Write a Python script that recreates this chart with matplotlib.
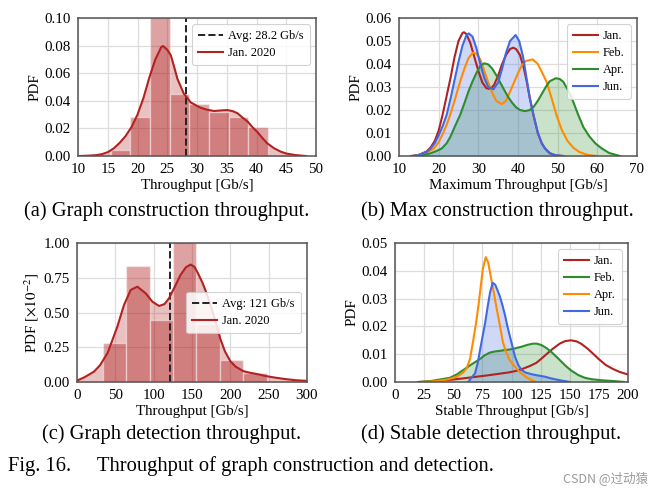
import numpy as np
import matplotlib
matplotlib.use("Agg")
import matplotlib.pyplot as plt

plt.rcParams['font.family'] = ['Liberation Serif', 'DejaVu Serif']
plt.rcParams['mathtext.fontset'] = 'stix'

RED = '#b22222'
ORANGE = '#ff8c00'
GREEN = '#2e8b2e'
BLUE = '#4169e1'

# ---------------- (a) graph construction throughput ----------------
a_bin_edges = [15.5, 18.8, 22.1, 25.4, 28.7, 32.0, 35.3, 38.6, 41.9]
a_bin_heights = [0.0046, 0.028, 0.106, 0.045, 0.038, 0.0317, 0.028, 0.0213]
a_kde_x = [10.3, 12, 13, 14, 15, 16, 17, 18, 19, 20, 21, 22, 23, 24, 24.3, 25,
           25.6, 26.2, 26.7, 27.3, 27.8, 28.4, 28.9, 29.7, 30.6, 31.7, 32.9, 34,
           35.1, 36, 36.8, 37.6, 38.5, 39.3, 40.1, 41, 41.8, 43, 44.1, 45, 46.5, 48.3]
a_kde_y = [0, 0.0003, 0.0006, 0.0013, 0.0028, 0.0055, 0.0095, 0.0145, 0.021, 0.030,
           0.042, 0.057, 0.070, 0.079, 0.0797, 0.077, 0.073, 0.064, 0.056, 0.050,
           0.045, 0.042, 0.039, 0.037, 0.035, 0.0335, 0.0326, 0.033, 0.0333, 0.0325,
           0.031, 0.028, 0.025, 0.021, 0.0176, 0.013, 0.0092, 0.0055, 0.0031, 0.0018,
           0.0007, 0]
a_avg = 28.2

# ---------------- (b) max construction throughput ----------------
b_jan_x = [13, 15, 17, 18, 19, 20, 21, 22, 23, 24, 25, 26, 26.4, 27, 28, 29, 30, 31,
           32, 33.1, 34, 35, 36, 37, 38, 38.8, 39.5, 40.5, 41.5, 42.2, 43, 43.9, 45,
           46, 46.8, 48, 49.5, 51.3]
b_jan_y = [0, 0.0005, 0.002, 0.0038, 0.0065, 0.011, 0.018, 0.026, 0.034, 0.043,
           0.050, 0.0535, 0.0538, 0.053, 0.049, 0.043, 0.037, 0.032, 0.0295, 0.0291,
           0.031, 0.035, 0.040, 0.044, 0.0465, 0.0471, 0.0465, 0.0439, 0.038, 0.0323,
           0.025, 0.0178, 0.010, 0.0055, 0.0033, 0.0012, 0.0003, 0]
b_feb_x = [13.5, 15, 17, 18.8, 20, 21, 22, 22.9, 24, 25.4, 26.5, 27.5, 28.6, 29.5,
           30.5, 31.5, 32.5, 33.5, 34.5, 35.9, 37, 38, 39, 40, 41, 42, 43.7, 45, 46,
           47.2, 48.5, 49.7, 51, 52.5, 54, 55.5, 57.5, 59.8]
b_feb_y = [0, 0.0005, 0.0015, 0.0033, 0.006, 0.0095, 0.0135, 0.0178, 0.024, 0.0323,
           0.038, 0.0425, 0.0449, 0.0445, 0.042, 0.037, 0.032, 0.0275, 0.024, 0.0225,
           0.024, 0.028, 0.032, 0.036, 0.0395, 0.0413, 0.042, 0.040, 0.0365, 0.0323,
           0.025, 0.0178, 0.0115, 0.0065, 0.0035, 0.0017, 0.0005, 0]
b_apr_x = [14.8, 16.5, 18, 19.5, 20.8, 22, 23, 24, 25.4, 26.5, 27.5, 28.5, 29.5, 30.5,
           31.5, 32.5, 33.5, 34.5, 35.5, 36.5, 37.5, 38.5, 39.5, 40.5, 41.8, 43, 44,
           45, 46, 47, 48, 49.5, 50.5, 51.4, 52.5, 53.5, 55.2, 56.5, 58, 59.5, 61.1,
           63, 65.7]
b_apr_y = [0, 0.0005, 0.0012, 0.0022, 0.0033, 0.0055, 0.0085, 0.0125, 0.0178, 0.023,
           0.028, 0.0323, 0.036, 0.0392, 0.0403, 0.0398, 0.038, 0.0352, 0.032, 0.0288,
           0.0257, 0.0232, 0.0212, 0.020, 0.0195, 0.020, 0.0215, 0.024, 0.027, 0.030,
           0.0325, 0.0338, 0.0335, 0.0323, 0.029, 0.0255, 0.0178, 0.0125, 0.0085,
           0.0055, 0.0033, 0.0013, 0]
b_jun_x = [13.5, 15, 17, 18, 19, 20, 21, 22, 23, 24, 25, 26, 27, 27.6, 28.5, 29.5,
           30.5, 31.5, 32.5, 33.8, 35, 36, 37, 38, 39.4, 40.3, 41.3, 42.3, 43, 43.9,
           45, 46, 46.8, 48, 49.5, 51.5]
b_jun_y = [0, 0.0004, 0.0018, 0.0033, 0.0055, 0.009, 0.013, 0.0178, 0.025, 0.033,
           0.041, 0.048, 0.0525, 0.0533, 0.052, 0.047, 0.040, 0.034, 0.030, 0.029,
           0.032, 0.038, 0.045, 0.050, 0.0526, 0.050, 0.043, 0.0323, 0.025, 0.0178,
           0.010, 0.0055, 0.0033, 0.0012, 0.0003, 0]

# ---------------- (c) graph detection throughput (x1e-2) ----------------
c_bin_edges = [33.8, 64.3, 94.8, 125.3, 155.8, 186.3, 216.8, 247.3]
c_bin_heights = [0.284, 0.831, 0.446, 1.076, 0.42, 0.157, 0.065]
c_kde_x = [0, 10, 22, 30, 40, 52.6, 61.3, 70, 78.7, 89.6, 98.3, 107, 114, 120, 128,
           135, 142, 148, 153, 158, 164, 169, 175, 181, 187, 193, 200, 207, 217, 226,
           234, 247, 260, 272, 285, 300]
c_kde_y = [0.01, 0.035, 0.074, 0.12, 0.21, 0.398, 0.554, 0.662, 0.686, 0.638, 0.578,
           0.547, 0.56, 0.602, 0.69, 0.77, 0.825, 0.845, 0.83, 0.78, 0.71, 0.638,
           0.54, 0.43, 0.31, 0.22, 0.15, 0.11, 0.078, 0.066, 0.058, 0.042, 0.03,
           0.021, 0.013, 0.008]
c_avg = 121

# ---------------- (d) stable detection throughput ----------------
d_jan_x = [20, 30, 40, 50, 58.6, 66, 74, 81.4, 90, 98.6, 105, 110, 116, 121.4, 126,
           130, 135, 141.4, 146, 151, 156, 160, 165, 170, 175, 181, 187, 193, 200]
d_jan_y = [0, 0.0002, 0.0005, 0.0009, 0.0013, 0.0017, 0.0021, 0.0025, 0.003, 0.0035,
           0.0041, 0.0048, 0.0058, 0.0069, 0.0085, 0.0100, 0.0118, 0.0138, 0.0147,
           0.015, 0.0146, 0.0137, 0.0121, 0.0102, 0.0082, 0.0061, 0.0047, 0.0036,
           0.0027]
d_feb_x = [20, 30, 40, 47, 53, 58.6, 64.4, 69, 73, 77, 81.5, 86, 90, 94.4, 98.6, 103,
           108.7, 114, 118.6, 121.6, 125.7, 130, 134.5, 140, 146, 151, 157.3, 163,
           168.8, 178, 188.8, 197]
d_feb_y = [0, 0.0003, 0.0010, 0.0015, 0.0027, 0.0043, 0.0060, 0.0072, 0.0083, 0.0096,
           0.0106, 0.011, 0.0112, 0.0115, 0.0117, 0.0121, 0.0127, 0.0134, 0.0138,
           0.0138, 0.0133, 0.0122, 0.0107, 0.0085, 0.006, 0.0042, 0.0025, 0.0015,
           0.001, 0.0006, 0.0003, 0]
d_apr_x = [24, 35, 45, 53, 58, 61.5, 64.5, 67.2, 69.5, 71.5, 73.5, 75.5, 77.9, 80,
           82.2, 84.4, 87, 90, 92.5, 95, 98, 101, 104.3, 108, 112.9, 117, 121]
d_apr_y = [0, 0.0003, 0.0009, 0.0019, 0.0032, 0.0049, 0.0085, 0.0151, 0.021, 0.0271,
           0.034, 0.041, 0.0449, 0.043, 0.038, 0.0331, 0.027, 0.0205, 0.0145, 0.0112,
           0.0082, 0.0064, 0.0048, 0.0032, 0.0017, 0.0007, 0]
d_jun_x = [62.9, 65, 68.7, 71, 73, 75, 77.3, 79.5, 81.5, 83.8, 86, 88, 90.1, 92.3,
           94.4, 96.5, 98.7, 101, 103, 106, 108.7, 112, 117.3, 122, 128.8, 133, 137.3,
           142, 146, 150]
d_jun_y = [0, 0.0012, 0.0031, 0.0068, 0.0115, 0.016, 0.0211, 0.027, 0.032, 0.0357,
           0.035, 0.033, 0.0307, 0.0275, 0.0241, 0.020, 0.0163, 0.0125, 0.0091, 0.006,
           0.0043, 0.0034, 0.0028, 0.0024, 0.0019, 0.0014, 0.001, 0.0006, 0.0003, 0]

W, H = 656, 494
fig = plt.figure(figsize=(W / 100, H / 100), dpi=100)


def make_axes(l, r, t, b):
    ax = fig.add_axes([l / W, 1 - b / H, (r - l) / W, (b - t) / H])
    ax.set_facecolor('white')
    ax.grid(True, color='#dddddd', linewidth=0.9)
    ax.set_axisbelow(True)
    for s in ax.spines.values():
        s.set_color('#555555')
        s.set_linewidth(1.1)
    ax.tick_params(length=0, labelsize=10.8, pad=5)
    return ax


def style_legend(ax, **kw):
    leg = ax.legend(fontsize=8.9, frameon=True, fancybox=True, framealpha=0.85,
                    edgecolor='#cccccc', borderpad=0.5, labelspacing=0.4,
                    handletextpad=0.4, **kw)
    leg.get_frame().set_linewidth(0.8)
    return leg


def hist_kde(ax, edges, heights, kx, ky, avg, avg_label):
    edges = np.array(edges)
    ax.fill_between(kx, ky, color=RED, alpha=0.28, linewidth=0)
    ax.bar(edges[:-1], heights, width=np.diff(edges), align='edge', color=RED,
           alpha=0.42, edgecolor='white', linewidth=1.0)
    ax.axvline(avg, color='#222222', linestyle='--', linewidth=1.4,
               label=avg_label)
    ax.plot(kx, ky, color=RED, linewidth=1.5, label='Jan. 2020')


# (a)
ax = make_axes(78, 316, 18, 156)
hist_kde(ax, a_bin_edges, a_bin_heights, a_kde_x, a_kde_y, a_avg,
         'Avg: 28.2 Gb/s')
ax.set_xlim(10, 50)
ax.set_ylim(0, 0.10)
ax.set_xticks(np.arange(10, 51, 5))
ax.set_yticks(np.arange(0, 0.101, 0.02))
ax.set_yticklabels(['%.2f' % v for v in np.arange(0, 0.101, 0.02)])
ax.set_xlabel('Throughput [Gb/s]', fontsize=10.8, labelpad=2)
ax.set_ylabel('PDF', fontsize=10.8, labelpad=2)
style_legend(ax, loc='upper right')

# (b)
ax = make_axes(399, 637, 18, 156)
ax.plot(b_jan_x, b_jan_y, color=RED, linewidth=1.5, label='Jan.')
ax.plot(b_feb_x, b_feb_y, color=ORANGE, linewidth=1.5, label='Feb.')
ax.fill_between(b_apr_x, b_apr_y, color=GREEN, alpha=0.25, linewidth=0)
ax.plot(b_apr_x, b_apr_y, color=GREEN, linewidth=1.5, label='Apr.')
ax.fill_between(b_jun_x, b_jun_y, color=BLUE, alpha=0.25, linewidth=0)
ax.plot(b_jun_x, b_jun_y, color=BLUE, linewidth=1.5, label='Jun.')
ax.set_xlim(10, 70)
ax.set_ylim(0, 0.06)
ax.set_xticks(np.arange(10, 71, 10))
ax.set_yticks(np.arange(0, 0.061, 0.01))
ax.set_yticklabels(['%.2f' % v for v in np.arange(0, 0.061, 0.01)])
ax.set_xlabel('Maximum Throughput [Gb/s]', fontsize=10.8, labelpad=2)
ax.set_ylabel('PDF', fontsize=10.8, labelpad=2)
style_legend(ax, loc='upper right')

# (c)
ax = make_axes(77, 307, 243, 382)
hist_kde(ax, c_bin_edges, c_bin_heights, c_kde_x, c_kde_y, c_avg,
         'Avg: 121 Gb/s')
ax.set_xlim(0, 300)
ax.set_ylim(0, 1.0)
ax.set_xticks(np.arange(0, 301, 50))
ax.set_yticks([0, 0.25, 0.5, 0.75, 1.0])
ax.set_yticklabels(['0.00', '0.25', '0.50', '0.75', '1.00'])
ax.set_xlabel('Throughput [Gb/s]', fontsize=10.8, labelpad=2)
ax.set_ylabel(r'PDF [$\times 10^{-2}$]', fontsize=10.8, labelpad=2)
style_legend(ax, loc='center right', bbox_to_anchor=(1.0, 0.5))

# (d)
ax = make_axes(395, 628, 243, 382)
ax.plot(d_jan_x, d_jan_y, color=RED, linewidth=1.5, label='Jan.')
ax.fill_between(d_feb_x, d_feb_y, color=GREEN, alpha=0.25, linewidth=0)
ax.plot(d_feb_x, d_feb_y, color=GREEN, linewidth=1.5, label='Feb.')
ax.plot(d_apr_x, d_apr_y, color=ORANGE, linewidth=1.5, label='Apr.')
ax.fill_between(d_jun_x, d_jun_y, color=BLUE, alpha=0.25, linewidth=0)
ax.plot(d_jun_x, d_jun_y, color=BLUE, linewidth=1.5, label='Jun.')
ax.set_xlim(0, 200)
ax.set_ylim(0, 0.05)
ax.set_xticks(np.arange(0, 201, 25))
ax.set_yticks(np.arange(0, 0.051, 0.01))
ax.set_yticklabels(['%.2f' % v for v in np.arange(0, 0.051, 0.01)])
ax.set_xlabel('Stable Throughput [Gb/s]', fontsize=10.8, labelpad=2)
ax.set_ylabel('PDF', fontsize=10.8, labelpad=2)
style_legend(ax, loc='upper right')

# captions
cap = dict(fontsize=14.8, ha='center', va='center')
fig.text(167 / W, 1 - 211 / H, '(a) Graph construction throughput.', **cap)
fig.text(497 / W, 1 - 211 / H, '(b) Max construction throughput.', **cap)
fig.text(172 / W, 1 - 434 / H, '(c) Graph detection throughput.', **cap)
fig.text(491 / W, 1 - 434 / H, '(d) Stable detection throughput.', **cap)
fig.text(8 / W, 1 - 466 / H, 'Fig. 16.', fontsize=14.8, ha='left', va='center')
fig.text(97 / W, 1 - 466 / H,
         'Throughput of graph construction and detection.',
         fontsize=14.8, ha='left', va='center')
fig.text(648 / W, 1 - 478 / H, 'CSDN @过动猿', fontsize=9, color='#9a9a9a',
         ha='right', va='center', family=['Noto Sans CJK SC', 'DejaVu Sans'])

fig.savefig('out.png', dpi=100)
